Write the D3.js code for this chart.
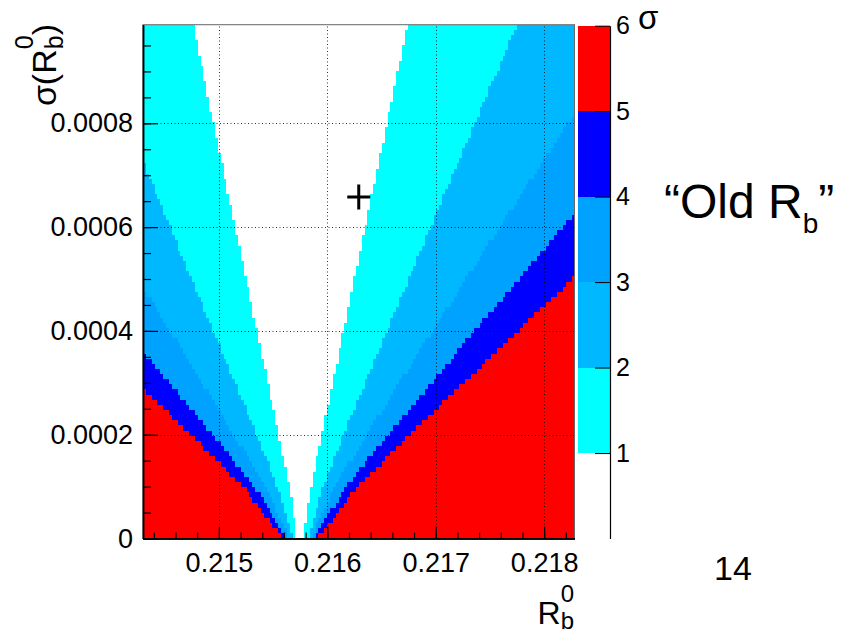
<!DOCTYPE html>
<html>
<head>
<meta charset="utf-8">
<script src="https://cdn.jsdelivr.net/npm/d3@7"></script>
<style>
  body { margin: 0; background: #fff; }
  svg { display: block; font-family: "Liberation Sans", Arial, Helvetica, sans-serif; }
</style>
</head>
<body>
<div id="root"></div>
<script>
// ------------------------------------------------------------------ DATA
// contour boundaries of the n-sigma bands: R_b^0 value left / right of the centre
// at each sigma(R_b^0) row
const sigmaY = [0, 0.0001, 0.0002, 0.0004, 0.0006, 0.0008, 0.00099];

const lo1 = [0.21572, 0.21565, 0.21555, 0.21535, 0.21515, 0.21495, 0.21476];
const hi1 = [0.21578, 0.21585, 0.21595, 0.21615, 0.21635, 0.21655, 0.21674];
const lo2 = [0.21568, 0.21554, 0.21535, 0.21495, 0.21455, 0.21415, 0.21377];
const hi2 = [0.21582, 0.21596, 0.21615, 0.21655, 0.21695, 0.21736, 0.21775];
const lo3 = [0.21565, 0.21543, 0.21514, 0.21455, 0.21395, 0.21335, 0.21278];
const hi3 = [0.21585, 0.21607, 0.21636, 0.21697, 0.21759, 0.21822, 0.21880];
const lo4 = [0.21562, 0.21533, 0.21494, 0.21414, 0.21335, 0.21255, 0.21179];
const hi4 = [0.21588, 0.21617, 0.21656, 0.21736, 0.21817, 0.21897, 0.21972];
const lo5 = [0.21559, 0.21522, 0.21474, 0.21374, 0.21275, 0.21175, 0.21080];
const hi5 = [0.21591, 0.21628, 0.21676, 0.21776, 0.21876, 0.21975, 0.22070];

const xTicks  = [0.215, 0.216, 0.217, 0.218];
const yTicks  = [0, 0.0002, 0.0004, 0.0006, 0.0008];
const zLevels = [1, 2, 3, 4, 5, 6];
const zColors = ['#00ffff', '#00b8ff', '#00a2ff', '#0000ff', '#ff0000'];
const marker  = { x: 0.21629, y: 0.000658 };
const nBinsX = 150, nBinsY = 100;

// ------------------------------------------------------------------ SVG
const W = 848, H = 636;
const svg = d3.select('#root').append('svg')
  .attr('width', W)
  .attr('height', H);

const x = d3.scaleLinear().domain([0.2143, 0.21828]).range([143, 574.5]);
const y = d3.scaleLinear().domain([0, 0.00099]).range([538.5, 24.7]);
const z = d3.scaleLinear().domain([0, 6]).range([538.5, 25.7]);

// ------------------------------------------------------------------ HISTOGRAM CELLS
const bounds = [[lo1, hi1], [lo2, hi2], [lo3, hi3], [lo4, hi4], [lo5, hi5]];
const polys = bounds.map(([lo, hi]) =>
  lo.map((v, i) => [v, sigmaY[i]]).concat(hi.map((v, i) => [v, sigmaY[i]]).reverse()));

const [xa, xb] = x.domain(), [ya, yb] = y.domain();
const bx = (xb - xa) / nBinsX, by = (yb - ya) / nBinsY;

const runs = [];
for (let j = 0; j < nBinsY; j++) {
  const yc = ya + (j + 0.5) * by;
  let cur = null;
  for (let i = 0; i < nBinsX; i++) {
    const xc = xa + (i + 0.5) * bx;
    let k = polys.findIndex(p => d3.polygonContains(p, [xc, yc]));
    if (k < 0) k = 5;
    const c = k === 0 ? null : zColors[k - 1];
    if (cur && cur.c === c) { cur.i1 = i; continue; }
    if (cur && cur.c) runs.push(cur);
    cur = { i0: i, i1: i, j, c };
  }
  if (cur && cur.c) runs.push(cur);
}

svg.append('g')
  .attr('shape-rendering', 'crispEdges')
  .selectAll('rect')
  .data(runs)
  .join('rect')
  .attr('x', d => x(xa + d.i0 * bx))
  .attr('width', d => x(xa + (d.i1 + 1) * bx) - x(xa + d.i0 * bx))
  .attr('y', d => y(ya + (d.j + 1) * by))
  .attr('height', d => y(ya + d.j * by) - y(ya + (d.j + 1) * by))
  .attr('fill', d => d.c);

// ------------------------------------------------------------------ GRID
const grid = svg.append('g')
  .attr('stroke', '#000')
  .attr('stroke-width', 1)
  .attr('stroke-dasharray', '1,2.5')
  .attr('opacity', 0.8);
grid.selectAll('.gx').data(xTicks).join('line')
  .attr('x1', d => Math.round(x(d)) + 0.5).attr('x2', d => Math.round(x(d)) + 0.5)
  .attr('y1', y.range()[0]).attr('y2', y.range()[1]);
grid.selectAll('.gy').data(yTicks.slice(1)).join('line')
  .attr('y1', d => Math.round(y(d)) + 0.5).attr('y2', d => Math.round(y(d)) + 0.5)
  .attr('x1', x.range()[0]).attr('x2', x.range()[1]);

// ------------------------------------------------------------------ FRAME
svg.append('rect')
  .attr('x', x.range()[0]).attr('y', y.range()[1])
  .attr('width', x.range()[1] - x.range()[0])
  .attr('height', y.range()[0] - y.range()[1])
  .attr('fill', 'none')
  .attr('stroke', '#666')
  .attr('stroke-width', 1);

// ------------------------------------------------------------------ AXES
const bottomY = y.range()[0];
svg.append('g')
  .attr('transform', `translate(0,${bottomY})`)
  .call(d3.axisBottom(x).ticks(20).tickSize(-6).tickSizeOuter(0).tickFormat(''));
const xAxis = svg.append('g')
  .attr('transform', `translate(0,${bottomY})`)
  .call(d3.axisBottom(x).tickValues(xTicks).tickSize(-12).tickSizeOuter(0)
    .tickPadding(14).tickFormat(d3.format('.3f')));

svg.append('g')
  .attr('transform', `translate(${x.range()[0]},0)`)
  .call(d3.axisLeft(y).ticks(20).tickSize(-8).tickSizeOuter(0).tickFormat(''));
const yAxis = svg.append('g')
  .attr('transform', `translate(${x.range()[0]},0)`)
  .call(d3.axisLeft(y).tickValues(yTicks).tickSize(-15).tickSizeOuter(0)
    .tickPadding(10).tickFormat(d => d === 0 ? '0' : d3.format('.4f')(d)));

svg.selectAll('.domain').attr('stroke', '#000').attr('stroke-width', 1.5);
svg.selectAll('.tick line').attr('stroke', '#000').attr('stroke-width', 1.2);
[xAxis, yAxis].forEach(a => a.selectAll('text')
  .attr('font-size', 27).attr('fill', '#000')
  .style('font-family', '"Liberation Sans", Arial, sans-serif'));

// ------------------------------------------------------------------ MARKER
const mx = x(marker.x), my = y(marker.y);
svg.append('path')
  .attr('d', `M${mx - 11.5},${my}H${mx + 11.5}M${mx},${my - 12.5}V${my + 12.5}`)
  .attr('stroke', '#000')
  .attr('stroke-width', 3)
  .attr('fill', 'none');

// ------------------------------------------------------------------ COLOUR BAR
const cbX0 = 578, cbX1 = 610;
svg.append('g')
  .attr('shape-rendering', 'crispEdges')
  .selectAll('rect')
  .data(zColors)
  .join('rect')
  .attr('x', cbX0)
  .attr('width', cbX1 - cbX0)
  .attr('y', (c, i) => z(zLevels[i + 1]))
  .attr('height', (c, i) => z(zLevels[i]) - z(zLevels[i + 1]))
  .attr('fill', c => c);

const zAxis = svg.append('g')
  .attr('transform', `translate(${cbX1},0)`)
  .call(d3.axisRight(z).tickValues(zLevels).tickSize(-15).tickSizeOuter(0)
    .tickPadding(6).tickFormat(d3.format('d')));
zAxis.select('.domain').attr('stroke', '#000').attr('stroke-width', 1.2);
zAxis.selectAll('.tick line').attr('stroke', '#000');
zAxis.selectAll('text').attr('font-size', 25).attr('fill', '#000')
  .style('font-family', '"Liberation Sans", Arial, sans-serif');

// ------------------------------------------------------------------ TEXTS
// lays out text pieces with stacked sub / superscripts, returns width
function richText(g, parts, size, subSize, supDy, subDy) {
  let cx = 0;
  parts.forEach(p => {
    if (p.t !== undefined) {
      const t = g.append('text').attr('x', cx).attr('y', 0)
        .attr('font-size', size).text(p.t);
      cx += t.node().getComputedTextLength();
    } else {
      let w = 0;
      if (p.sup) {
        const t = g.append('text').attr('x', cx).attr('y', supDy)
          .attr('font-size', subSize).text(p.sup);
        w = Math.max(w, t.node().getComputedTextLength());
      }
      if (p.sub) {
        const t = g.append('text').attr('x', cx).attr('y', subDy)
          .attr('font-size', subSize).text(p.sub);
        w = Math.max(w, t.node().getComputedTextLength());
      }
      cx += w;
    }
  });
  return cx;
}

// y title
const yt = svg.append('g');
const ytw = richText(yt, [{ t: 'σ(R' }, { sub: 'b', sup: '0' }, { t: ')' }], 34, 25, -23, 7);
yt.attr('transform', `translate(56,${24 + ytw}) rotate(-90)`);

// x title
const xt = svg.append('g');
const xtw = richText(xt, [{ t: 'R' }, { sub: 'b', sup: '0' }], 32, 24, -22, 5);
xt.attr('transform', `translate(${574 - xtw},624)`);

// sigma label on the colour bar
svg.append('text')
  .attr('x', 638).attr('y', 29)
  .attr('font-size', 33)
  .text('σ');

// "Old Rb"
const ot = svg.append('g').attr('transform', 'translate(664,218)');
richText(ot, [{ t: '\u201cOld R' }, { sub: 'b' }, { t: '\u201d' }], 48, 28, 0, 15);

// slide number
svg.append('text')
  .attr('x', 733).attr('y', 580)
  .attr('text-anchor', 'middle')
  .attr('font-size', 34)
  .text('14');
</script>
</body>
</html>
